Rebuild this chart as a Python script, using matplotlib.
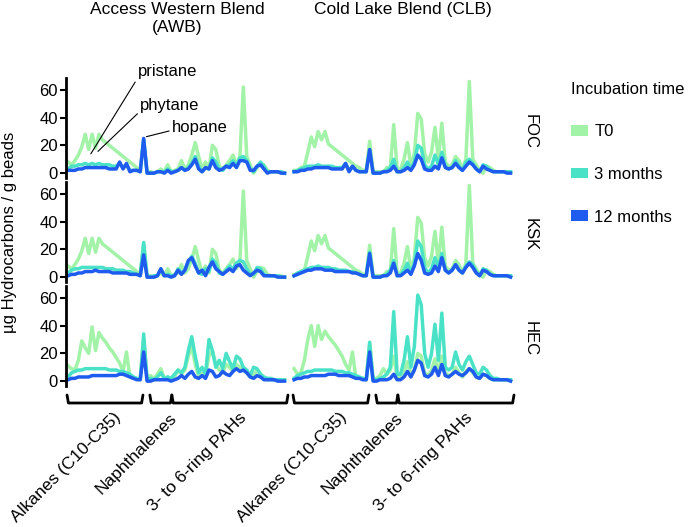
"""
Hydrocarbon profiles per compound for two oils (AWB, CLB) at three sites,
coloured by incubation time.
"""

import numpy as np
import matplotlib
matplotlib.use("Agg")
import matplotlib.pyplot as plt
from matplotlib.patches import Patch
from matplotlib.transforms import blended_transform_factory

plt.rcParams["font.family"] = ["Liberation Sans", "DejaVu Sans"]

OILS = ["Access Western Blend\n(AWB)", "Cold Lake Blend (CLB)"]
SITES = ["FOC", "KSK", "HEC"]
TIMES = ["T0", "3 months", "12 months"]
COLORS = ["#a2f3a8", "#4ae2c6", "#1f5bee"]

# compound groups along the x axis (index ranges)
GROUPS = ["Alkanes (C10-C35)", "Naphthalenes", "3- to 6-ring PAHs"]
GROUP_START = [-0.3, 23.8, 30.2]
GROUP_END = [21.8, 30.2, 64.0]

# --- AWB -------------------------------------------------------------------
awb_t0 = [8, 6, 9, 13, 19, 28, 17, 28, 18, 28, 24, 22, 20, 18, 16, 14,
          12, 10, 8, 6, 4, 2, 24, 1, 1, 0, 1, 3, 1, 6, 1, 2,
          3, 9, 3, 6, 13, 22, 12, 3, 8, 3, 20, 17, 5, 3, 6, 9,
          13, 6, 12, 62, 12, 6, 0, 4, 7, 6, 2, 1, 1, 1, 1, 0]
awb_foc_3m = [3, 5, 5, 6, 6, 7, 6, 7, 6, 7, 6, 6, 6, 5, 5, 7,
              4, 6, 2, 2, 2, 1, 24, 0, 0, 0, 1, 1, 1, 3, 1, 1,
              2, 4, 2, 4, 7, 12, 5, 1, 4, 3, 11, 8, 3, 2, 5, 6,
              9, 5, 11, 12, 9, 3, 1, 5, 8, 5, 1, 1, 1, 1, 1, 0]
awb_foc_12m = [2, 2, 2, 3, 3, 4, 4, 4, 4, 4, 4, 4, 3, 3, 3, 8,
               3, 7, 1, 2, 2, 1, 25, 0, 0, 0, 1, 1, 0, 2, 0, 1,
               2, 4, 2, 3, 6, 10, 3, 1, 4, 3, 9, 4, 2, 3, 5, 4,
               7, 4, 9, 9, 8, 2, 2, 5, 6, 3, 0, 1, 1, 1, 0, 0]
awb_ksk_3m = [3, 5, 6, 6, 7, 7, 7, 7, 7, 7, 7, 6, 6, 6, 5, 5,
              5, 4, 4, 3, 2, 1, 25, 0, 0, 1, 1, 6, 1, 2, 1, 1,
              6, 3, 5, 11, 15, 10, 3, 2, 6, 4, 13, 10, 3, 2, 5, 8,
              6, 10, 12, 11, 6, 2, 2, 7, 6, 2, 1, 1, 1, 1, 0, 0]
awb_ksk_12m = [1, 2, 2, 3, 3, 4, 4, 4, 5, 4, 4, 4, 4, 3, 3, 3,
               3, 3, 2, 2, 2, 1, 16, 0, 0, 0, 1, 6, 1, 1, 0, 1,
               5, 2, 5, 12, 14, 8, 3, 5, 1, 7, 11, 6, 4, 2, 4, 6,
               4, 8, 9, 5, 3, 1, 3, 5, 4, 1, 1, 1, 1, 0, 0, 0]
awb_hec_t0 = [11, 9, 8, 15, 29, 24, 20, 39, 22, 35, 31, 28, 24, 21, 17, 13,
              7, 21, 3, 2, 2, 1, 30, 2, 4, 2, 5, 9, 2, 3, 2, 3,
              8, 5, 8, 18, 25, 12, 4, 6, 5, 18, 22, 12, 8, 6, 12, 10,
              7, 12, 10, 8, 6, 3, 4, 8, 5, 2, 1, 1, 1, 1, 1, 1]
awb_hec_3m = [3, 6, 7, 8, 8, 9, 9, 9, 9, 9, 9, 9, 8, 8, 8, 7,
              7, 6, 5, 3, 2, 1, 34, 1, 2, 1, 3, 6, 2, 3, 2, 5,
              8, 6, 10, 22, 32, 18, 6, 10, 5, 30, 22, 10, 15, 9, 20, 14,
              9, 18, 16, 10, 8, 4, 10, 9, 5, 3, 2, 2, 1, 1, 1, 1]
awb_hec_12m = [1, 2, 2, 3, 3, 3, 3, 4, 4, 4, 4, 4, 4, 4, 4, 5,
               5, 4, 3, 2, 1, 1, 21, 0, 0, 1, 1, 1, 1, 1, 0, 1,
               2, 4, 2, 5, 7, 3, 2, 4, 2, 8, 7, 3, 4, 7, 5, 4,
               7, 9, 7, 8, 6, 3, 2, 4, 3, 1, 1, 1, 1, 0, 0, 0]

# --- CLB -------------------------------------------------------------------
clb_t0 = [2, 2, 4, 5, 15, 26, 19, 30, 24, 30, 21, 19, 17, 15, 13, 11,
          9, 7, 5, 4, 2, 2, 23, 1, 1, 1, 1, 4, 4, 35, 3, 3,
          10, 22, 5, 14, 43, 39, 14, 8, 15, 33, 10, 36, 8, 5, 6, 12,
          9, 3, 10, 66, 10, 6, 2, 0, 5, 4, 2, 1, 1, 1, 1, 1]
clb_foc_3m = [1, 2, 3, 4, 5, 5, 5, 6, 5, 5, 5, 5, 4, 4, 4, 7,
              2, 5, 2, 1, 1, 1, 17, 0, 0, 0, 1, 2, 4, 10, 1, 1,
              4, 8, 3, 8, 20, 18, 6, 3, 5, 13, 6, 15, 5, 3, 4, 9,
              5, 2, 8, 10, 7, 3, 1, 6, 5, 2, 1, 1, 1, 1, 1, 1]
clb_foc_12m = [1, 1, 2, 2, 3, 3, 4, 4, 4, 4, 4, 3, 3, 3, 3, 7,
               1, 5, 2, 1, 1, 1, 17, 0, 0, 0, 1, 1, 2, 5, 1, 1,
               2, 4, 2, 6, 13, 10, 3, 2, 2, 5, 3, 11, 4, 3, 4, 7,
               4, 2, 5, 8, 6, 3, 1, 5, 3, 2, 1, 1, 1, 1, 0, 0]
clb_ksk_3m = [1, 3, 4, 5, 6, 7, 7, 8, 7, 7, 7, 6, 6, 5, 5, 5,
              4, 4, 3, 2, 1, 1, 18, 0, 0, 0, 1, 2, 5, 12, 1, 2,
              5, 10, 3, 10, 26, 22, 7, 3, 6, 14, 7, 17, 5, 3, 5, 9,
              5, 3, 8, 11, 9, 4, 1, 6, 5, 2, 1, 1, 1, 1, 1, 1]
clb_ksk_12m = [1, 2, 3, 4, 5, 5, 6, 6, 6, 5, 5, 5, 4, 4, 4, 4,
               4, 3, 3, 2, 1, 1, 17, 0, 0, 0, 1, 1, 3, 10, 1, 1,
               3, 5, 2, 8, 17, 12, 3, 2, 3, 8, 4, 14, 5, 3, 5, 9,
               5, 3, 7, 10, 7, 3, 1, 5, 4, 2, 1, 1, 1, 1, 1, 0]
clb_hec_t0 = [9, 5, 6, 15, 30, 40, 25, 40, 30, 36, 32, 29, 26, 22, 18, 12,
              8, 21, 2, 2, 2, 1, 27, 1, 2, 4, 9, 5, 8, 18, 3, 3,
              6, 14, 5, 8, 20, 18, 6, 4, 8, 16, 7, 18, 6, 4, 5, 10,
              6, 3, 7, 9, 6, 3, 2, 5, 4, 2, 1, 1, 1, 1, 1, 1]
clb_hec_3m = [2, 4, 5, 6, 7, 7, 8, 8, 8, 8, 8, 8, 7, 7, 7, 6,
              6, 5, 4, 3, 2, 1, 28, 1, 1, 2, 3, 5, 10, 50, 5, 5,
              15, 32, 10, 25, 62, 55, 20, 10, 20, 41, 15, 49, 10, 8, 10, 21,
              12, 8, 14, 18, 12, 6, 5, 10, 8, 4, 2, 2, 1, 1, 1, 1]
clb_hec_12m = [1, 2, 2, 3, 3, 4, 4, 4, 4, 4, 5, 5, 5, 4, 4, 4,
               4, 3, 2, 2, 1, 1, 21, 0, 0, 1, 1, 1, 2, 5, 1, 1,
               3, 7, 3, 8, 15, 13, 4, 3, 5, 10, 4, 12, 4, 3, 5, 7,
               5, 4, 6, 9, 7, 3, 2, 5, 4, 2, 1, 1, 1, 1, 1, 0]

PANELS = {
    (0, 0): [awb_t0, awb_foc_3m, awb_foc_12m],
    (1, 0): [awb_t0, awb_ksk_3m, awb_ksk_12m],
    (2, 0): [awb_hec_t0, awb_hec_3m, awb_hec_12m],
    (0, 1): [clb_t0, clb_foc_3m, clb_foc_12m],
    (1, 1): [clb_t0, clb_ksk_3m, clb_ksk_12m],
    (2, 1): [clb_hec_t0, clb_hec_3m, clb_hec_12m],
}

W, H = 692, 527
fig = plt.figure(figsize=(W / 100, H / 100), dpi=100)


def rect(x0, y0, w, h):
    """pixel box (top-left origin) -> figure fraction"""
    return [x0 / W, 1 - (y0 + h) / H, w / W, h / H]


COL_X = [66, 292]
ROW_Y = [78, 182, 286]
AX_W, AX_H = 222, 100

axes = {}
for r in range(3):
    for c in range(2):
        ax = fig.add_axes(rect(COL_X[c], ROW_Y[r], AX_W, AX_H))
        axes[(r, c)] = ax
        for series, col in zip(PANELS[(r, c)], COLORS):
            ax.plot(np.arange(len(series)), series, color=col, lw=2.5,
                    solid_joinstyle="round")
        ax.set_xlim(-0.6, 64.0)
        ax.set_ylim(-3.5, 68.5)
        ax.set_xticks([])
        for s in ["top", "right", "bottom"]:
            ax.spines[s].set_visible(False)
        if c == 0:
            ax.spines["left"].set_linewidth(2.0)
            ax.set_yticks([0, 20, 40, 60])
            ax.tick_params(axis="y", length=4, width=1.5, labelsize=12, pad=2)
        else:
            ax.spines["left"].set_visible(False)
            ax.set_yticks([])
        ax.patch.set_alpha(0)

# annotations on AWB / FOC
ax = axes[(0, 0)]
ann = dict(arrowstyle="-", color="black", lw=0.8, shrinkA=0, shrinkB=1)
ax.annotate("pristane", xy=(6.4, 13), xytext=(20.3, 73), fontsize=12,
            ha="left", va="center", annotation_clip=False,
            arrowprops=dict(ann, relpos=(0, 0.1)))
ax.annotate("phytane", xy=(8.4, 15), xytext=(21.0, 49), fontsize=12,
            ha="left", va="center", annotation_clip=False,
            arrowprops=dict(ann, relpos=(0, 0.1)))
ax.annotate("hopane", xy=(22.4, 26), xytext=(30.2, 33), fontsize=12,
            ha="left", va="center", annotation_clip=False,
            arrowprops=dict(ann, relpos=(0, 0.3)))

# brackets + group labels under bottom row
for c in range(2):
    ax = axes[(2, c)]
    tr = blended_transform_factory(ax.transData, ax.transAxes)
    for name, a, b in zip(GROUPS, GROUP_START, GROUP_END):
        ax.plot([a, a + 0.4, b - 0.4, b], [-0.09, -0.17, -0.17, -0.09],
                color="black", lw=2.0, transform=tr, clip_on=False,
                solid_capstyle="round", solid_joinstyle="round")
        ax.text((a + b) / 2 + 2.5, -0.24, name, rotation=45, fontsize=12.5,
                ha="right", va="top", rotation_mode="anchor",
                transform=tr)

# column titles
for c, title in enumerate(OILS):
    fig.text((COL_X[c] + AX_W / 2) / W, 1 - 2 / H, title, ha="center",
             va="top", fontsize=12.5, linespacing=1.25)

# row (site) labels
for r, site in enumerate(SITES):
    fig.text(530 / W, 1 - (ROW_Y[r] + AX_H / 2 + 3) / H, site, rotation=-90,
             ha="center", va="center", fontsize=12)

fig.text(10 / W, 1 - 232 / H, "µg Hydrocarbons / g beads", rotation=90,
         ha="center", va="center", fontsize=12)

handles = [Patch(facecolor=col, edgecolor="none", label=t)
           for t, col in zip(TIMES, COLORS)]
fig.legend(handles=handles, title="Incubation time", loc="upper left",
           bbox_to_anchor=(556 / W, 1 - 67 / H), frameon=False, fontsize=12,
           title_fontsize=12, handlelength=1.0, handleheight=0.6,
           labelspacing=1.65, handletextpad=0.4, alignment="left")

fig.savefig("out.png", dpi=100)
